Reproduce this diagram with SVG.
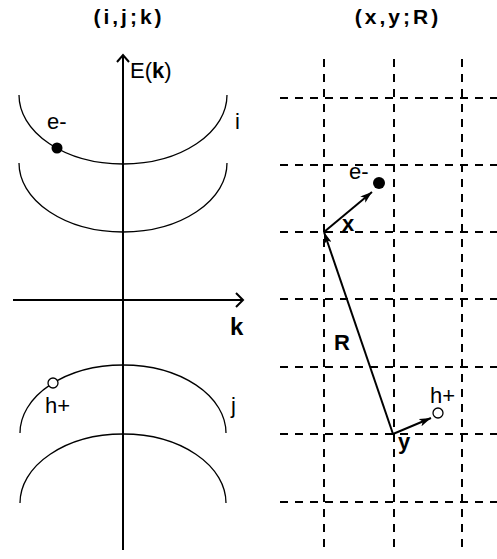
<svg xmlns="http://www.w3.org/2000/svg" width="497" height="559" viewBox="0 0 497 559">
<style>
text{font-family:"Liberation Sans",Arial,sans-serif;fill:#000}
.t{font-size:21px;font-weight:bold;letter-spacing:3px}
.b{font-weight:bold}
.lbl{font-size:22px}
.band{fill:none;stroke:#000;stroke-width:1.3}
.axis{fill:none;stroke:#000;stroke-width:2}
.grid{fill:none;stroke:#000;stroke-width:2;stroke-dasharray:8 7}
.vec{fill:none;stroke:#000;stroke-width:2}
</style>
<defs>
<marker id="ah" viewBox="0 0 12 8" refX="12" refY="4" markerWidth="12" markerHeight="8" markerUnits="userSpaceOnUse" orient="auto">
<path d="M0,0 L12,4 L0,8 L3,4 Z" fill="#000"/>
</marker>
</defs>
<rect width="497" height="559" fill="#fff"/>
<g id="titles">
<text class="t" x="129" y="24" text-anchor="middle">(i,j;k)</text>
<text class="t" x="398" y="24" text-anchor="middle">(x,y;R)</text>
</g>
<g id="left-panel">
<g id="axes">
<path class="axis" d="M123,550 V55 M117,62 L123,55 L129,62"/>
<path class="axis" d="M13,300 H243 M236,293 L243,300 L236,307"/>
<text x="130" y="78" font-size="22">E(<tspan class="b">k</tspan>)</text>
<text class="b" x="230" y="335" font-size="24">k</text>
</g>
<g id="band-i">
<path class="band" d="M19,95 A104,69 0 0 0 227,95"/>
<path class="band" d="M19,163 A104,69 0 0 0 227,163"/>
<text class="lbl" x="235" y="129">i</text>
</g>
<g id="band-j">
<path class="band" d="M20,433 A103,68 0 0 1 226,433"/>
<path class="band" d="M20,503 A103,69 0 0 1 226,503"/>
<text class="lbl" x="231" y="413">j</text>
</g>
<g id="electron-k">
<circle cx="57" cy="148" r="5.5" fill="#000"/>
<text class="lbl" x="47" y="129">e-</text>
</g>
<g id="hole-k">
<circle cx="53" cy="383" r="5" fill="#fff" stroke="#000" stroke-width="1.3"/>
<text class="lbl" x="45" y="413">h+</text>
</g>
</g>
<g id="grid">
<path class="grid" d="M324,59 V553 M394,59 V553 M462,59 V553"/>
<path class="grid" d="M280,98 H497 M280,165 H497 M280,232 H497 M280,299 H497 M280,367 H497 M280,434 H497 M280,502 H497"/>
</g>
<g id="connectors">
<line class="vec" x1="393" y1="434" x2="324" y2="232" marker-end="url(#ah)"/>
<line class="vec" x1="324" y1="232" x2="372" y2="192" marker-end="url(#ah)"/>
<line class="vec" x1="393" y1="434" x2="431" y2="418" marker-end="url(#ah)"/>
</g>
<g id="electron-r">
<circle cx="379" cy="183" r="6" fill="#000"/>
<text class="lbl" x="349" y="179" font-size="21">e-</text>
</g>
<g id="hole-r">
<circle cx="438" cy="413" r="5" fill="#fff" stroke="#000" stroke-width="1.3"/>
<text class="lbl" x="430" y="403" font-size="21">h+</text>
</g>
<g id="vector-labels">
<text class="b" x="342" y="231" font-size="22">x</text>
<text class="b" x="334" y="350" font-size="22">R</text>
<text class="b" x="398" y="449" font-size="22">y</text>
</g>
</svg>
